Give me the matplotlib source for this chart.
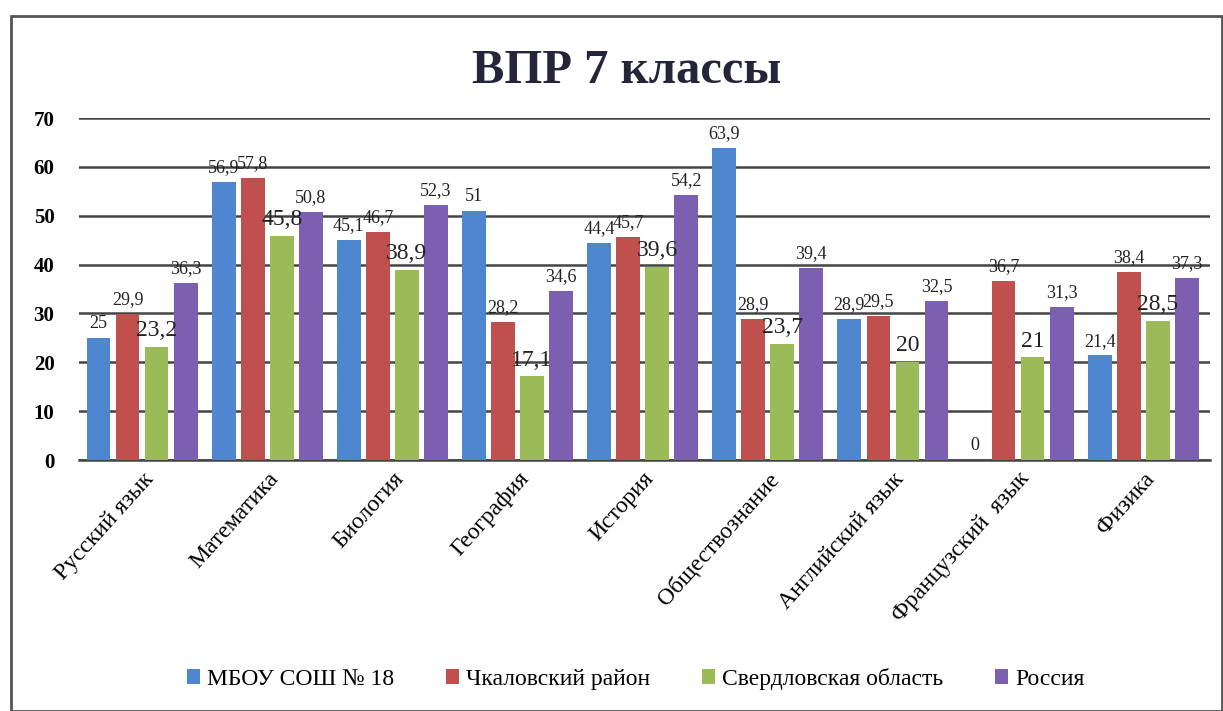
import matplotlib.pyplot as plt
import numpy as np
from matplotlib.patches import Rectangle

plt.rcParams['font.family'] = ['Liberation Serif', 'DejaVu Serif']

subjects = ['Русский язык', 'Математика', 'Биология', 'География', 'История',
            'Обществознание', 'Английский язык', 'Французский  язык', 'Физика']
school = [25, 56.9, 45.1, 51, 44.4, 63.9, 28.9, 0, 21.4]
district = [29.9, 57.8, 46.7, 28.2, 45.7, 28.9, 29.5, 36.7, 38.4]
region = [23.2, 45.8, 38.9, 17.1, 39.6, 23.7, 20, 21, 28.5]
russia = [36.3, 50.8, 52.3, 34.6, 54.2, 39.4, 32.5, 31.3, 37.3]
series_names = ['МБОУ СОШ № 18', 'Чкаловский район', 'Свердловская область', 'Россия']

colors = ['#4f86d0', '#c0504d', '#9bbb59', '#7c5fb0']
label_sizes = [13, 13, 17, 13]

fig = plt.figure(figsize=(12.23, 7.11), dpi=100)
fig.patches.append(Rectangle((0.009, 0.0), 0.99, 0.978, transform=fig.transFigure,
                             fill=False, edgecolor='#555555', linewidth=2))
ax = fig.add_axes([0.065, 0.353, 0.924, 0.481])

x = np.arange(len(subjects))
width = 0.19
step = 0.232
all_series = [school, district, region, russia]
for i, vals in enumerate(all_series):
    pos = x + (i - 1.5) * step
    ax.bar(pos, vals, width=width, color=colors[i], label=series_names[i], zorder=3)
    for px, v in zip(pos, vals):
        txt = ('%g' % v).replace('.', ',')
        ax.text(px, v + 1.2, txt, ha='center', va='bottom', fontsize=label_sizes[i],
                color='#222222', zorder=4)

ax.set_ylim(0, 70)
ax.set_xlim(-0.5, 8.53)
ax.set_yticks(range(0, 71, 10))
ax.yaxis.grid(True, color='#444444', linewidth=1.8, zorder=0)
ax.set_axisbelow(True)
for s in ['left', 'right', 'top']:
    ax.spines[s].set_visible(False)
ax.spines['bottom'].set_color('#444444')
ax.spines['bottom'].set_linewidth(1.8)
ax.tick_params(axis='y', length=0, labelsize=15, pad=18)
ax.tick_params(axis='x', length=0, labelsize=17, pad=6)
for t in ax.get_yticklabels():
    t.set_fontweight('bold')
ax.set_xticks(x)
ax.set_xticklabels(subjects, rotation=48, ha='right', rotation_mode='anchor')

fig.text(0.512, 0.9, 'ВПР 7 классы', ha='center', va='center', fontsize=35,
         fontweight='bold', color='#25253a')

fig.legend(loc='lower center', bbox_to_anchor=(0.52, 0.0), ncol=4, frameon=False,
           fontsize=17, handlelength=0.55, handleheight=0.55, handletextpad=0.3,
           columnspacing=2.2)

fig.savefig('out.png', dpi=100)
plt.close(fig)
